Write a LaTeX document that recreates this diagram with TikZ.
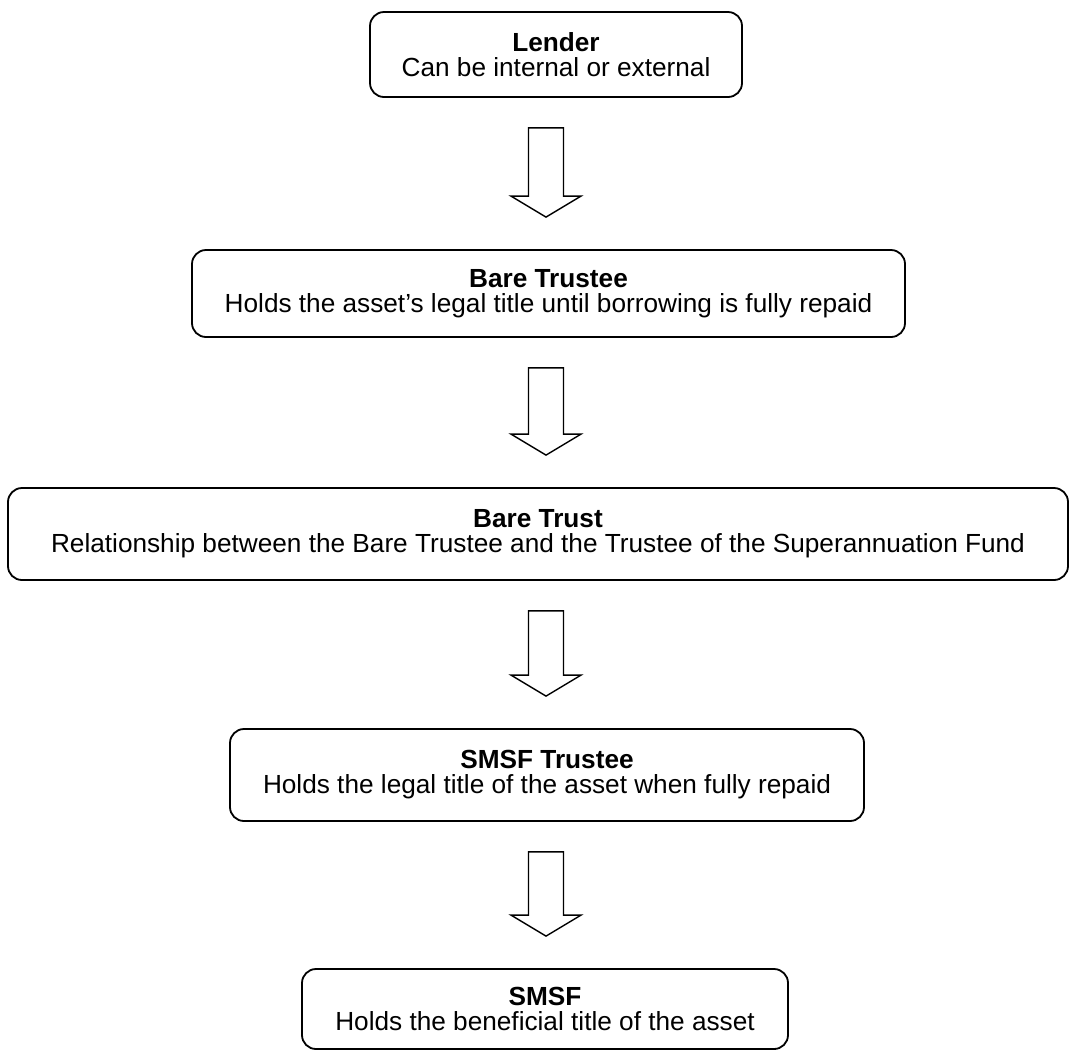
\documentclass[tikz,border=0pt]{standalone}
\usepackage{fontspec}
\setmainfont{Liberation Sans}
\usetikzlibrary{calc}

\tikzset{
  caixa/.style={draw, line width=0.9pt, rounded corners=7pt, align=center,
    inner sep=0pt, font=\fontsize{13.1}{12.5}\selectfont},
  seta/.style={draw, line width=0.7pt, fill=white, line join=miter}
}

\begin{document}
\begin{tikzpicture}[x=0.5pt, y=-0.5pt]
  \useasboundingbox (0,0) rectangle (1070,1051);
  \coordinate (eixo) at (546,0);

  % Caixas do fluxo
  \node[caixa, minimum width=186pt, minimum height=42.5pt] (lender) at (556,54.5)
    {\textbf{Lender}\\Can be internal or external};
  \node[caixa, minimum width=356.5pt, minimum height=43.5pt] (baretee) at (548.5,293.5)
    {\textbf{Bare Trustee}\\Holds the asset’s legal title until borrowing is fully repaid};
  \node[caixa, minimum width=530pt, minimum height=46pt] (baretrust) at (538,534)
    {\textbf{Bare Trust}\\Relationship between the Bare Trustee and the Trustee of the Superannuation Fund};
  \node[caixa, minimum width=317pt, minimum height=46pt] (smsftee) at (547,775)
    {\textbf{SMSF Trustee}\\Holds the legal title of the asset when fully repaid};
  \node[caixa, minimum width=243pt, minimum height=40pt] (smsf) at (545,1009)
    {\textbf{SMSF}\\Holds the beneficial title of the asset};

  % Setas largas entre as caixas
  \foreach \a/\b in {lender/baretee, baretee/baretrust, baretrust/smsftee, smsftee/smsf} {
    \draw[seta] ($(eixo |- \a.south)+(-17.5,30)$) -- ($(eixo |- \a.south)+(17.5,30)$)
      -- ($(eixo |- \b.north)+(17.5,-53)$) -- ($(eixo |- \b.north)+(35,-53)$)
      -- ($(eixo |- \b.north)+(0,-32)$) -- ($(eixo |- \b.north)+(-35,-53)$)
      -- ($(eixo |- \b.north)+(-17.5,-53)$) -- cycle;
  }
\end{tikzpicture}
\end{document}
